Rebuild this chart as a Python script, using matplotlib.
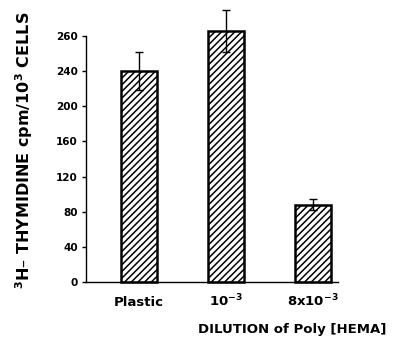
import matplotlib
matplotlib.use("Agg")
import matplotlib.pyplot as plt

categories = ["Plastic", r"$\mathbf{10^{-3}}$", r"$\mathbf{8x10^{-3}}$"]
values = [240, 286, 88]
errors = [21.5, 24, 6]
ytick_values = [0, 40, 80, 120, 160, 200, 240, 280]
ytick_labels = ["0", "40", "80", "120", "160", "200", "240", "260"]

plt.rcParams['font.family'] = ['DejaVu Sans']
plt.rcParams['hatch.linewidth'] = 1.1
plt.rcParams['mathtext.fontset'] = 'dejavusans'

W, H = 393, 339
fig = plt.figure(figsize=(W / 100, H / 100), dpi=100)
ax = fig.add_axes([86 / W, 57 / H, (338 - 86) / W, (282 - 36) / H])

x = list(range(len(categories)))
bars = ax.bar(x, values, width=0.41, color='white', edgecolor='black',
              linewidth=1.8, hatch='/////', zorder=2)
for b in bars:
    b.set_clip_on(False)
eb = ax.errorbar(x, values, yerr=errors, fmt='none', ecolor='black',
                 elinewidth=1.0, capsize=2.8, capthick=1.0, zorder=3)
for art in eb.lines[1]:
    art.set_clip_on(False)
for art in eb.lines[2]:
    art.set_clip_on(False)

ax.set_xlim(-0.61, 2.29)
ax.set_ylim(0, 280)
ax.set_yticks(ytick_values)
ax.set_yticklabels(ytick_labels, fontsize=7.5, fontweight='bold')
ax.set_xticks(x)
ax.set_xticklabels(categories, fontsize=9.5, fontweight='bold')
for lab in ax.get_xticklabels():
    lab.set_verticalalignment('baseline')
ax.tick_params(axis='x', length=0, pad=17.5)
ax.tick_params(axis='y', length=3, width=1.0, pad=3, direction='out')

for s in ['top', 'right']:
    ax.spines[s].set_visible(False)
ax.spines['left'].set_linewidth(1.0)
ax.spines['bottom'].set_linewidth(1.0)

fig.text(292 / W, 1 - 330 / H, "DILUTION of Poly [HEMA]", ha='center', va='center',
         fontsize=9.5, fontweight='bold')
fig.text(24 / W, 1 - 150 / H,
         r"$\mathbf{^{3}}$H" + "\u2013 THYMIDINE cpm/10" + r"$\mathbf{^{3}}$" + " CELLS",
         ha='center', va='center', rotation=90, fontsize=11.5, fontweight='bold')

fig.savefig("out.png", dpi=100)
